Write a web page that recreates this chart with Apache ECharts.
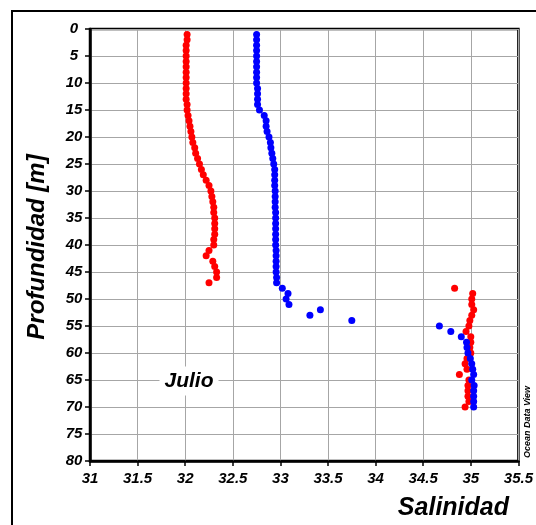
<!DOCTYPE html>
<html><head><meta charset="utf-8">
<script src="https://cdn.jsdelivr.net/npm/echarts@6/dist/echarts.min.js"></script>
<style>html,body{margin:0;padding:0;background:#fff;}#c{width:536px;height:525px;}</style>
</head><body><div id="c"></div>
<script>
var depths = [];
for (var d = 1; d <= 70; d++) depths.push(d);
var salRed = [32.02,32.02,32.01,32.01,32.01,32.01,32.01,32.01,32.01,32.01,32.01,32.01,32.01,32.02,32.02,
  32.03,32.04,32.05,32.06,32.07,32.08,32.10,32.11,32.13,32.15,32.17,32.19,32.22,32.25,32.27,
  32.28,32.29,32.30,32.30,32.31,32.31,32.31,32.31,32.30,32.30,32.25,32.22,32.29,32.31,32.33,32.33,32.25,
  34.83,35.02,35.01,35.01,35.03,35.01,34.99,34.98,34.95,35.00,35.00,34.99,35.00,34.96,34.94,34.96,34.88,
  34.98,34.97,34.97,34.97,34.98,34.94];
var salBlue = [32.75,32.75,32.75,32.75,32.75,32.75,32.75,32.75,32.75,32.75,32.76,32.76,32.76,32.76,
  32.78,32.83,32.85,32.85,32.86,32.88,32.895,32.90,32.91,32.92,32.93,32.94,32.94,32.94,32.94,32.945,
  32.945,32.945,32.945,32.95,32.95,32.95,32.95,32.95,32.95,32.95,32.955,32.955,32.955,32.955,32.955,32.96,32.96,
  33.02,33.08,33.06,33.09,33.42,33.31,33.75,34.67,34.79,34.90,34.955,34.96,34.97,34.995,35.01,35.02,35.03,
  35.01,35.035,35.03,35.03,35.03,35.03];
var xTicks = ['31','31.5','32','32.5','33','33.5','34','34.5','35','35.5'];

function pairs(sal){ return sal.map(function(s,i){ return [s, depths[i]]; }); }
var F = 'Liberation Sans, Arial, sans-serif';
var chart = echarts.init(document.getElementById('c'), null, {renderer:'canvas'});
chart.setOption({
  animation:false,
  backgroundColor:'#fff',
  grid:{left:90, top:29, width:432, height:432, show:true, borderColor:'#000', borderWidth:2.5, containLabel:false},
  xAxis:{type:'value', min:31, max:35.5, interval:0.5,
    axisLine:{show:true, onZero:false, lineStyle:{color:'#000', width:2.5}},
    axisTick:{show:true, length:5, lineStyle:{color:'#000', width:1.5}},
    axisLabel:{margin:10, color:'#000', fontFamily:F, fontWeight:'bold', fontStyle:'italic', fontSize:15,
      formatter:function(v){ return String(v); }},
    splitLine:{show:true, lineStyle:{color:'#a6a6a6', width:1}}},
  yAxis:{type:'value', min:0, max:80, interval:5, inverse:true,
    axisLine:{show:true, onZero:false, lineStyle:{color:'#000', width:2.5}},
    axisTick:{show:true, length:5, lineStyle:{color:'#000', width:1.5}},
    axisLabel:{margin:16, align:'center', color:'#000', fontFamily:F, fontWeight:'bold', fontStyle:'italic', fontSize:15},
    splitLine:{show:true, lineStyle:{color:'#a6a6a6', width:1}}},
  series:[
    {type:'scatter', data:pairs(salRed), symbolSize:7, itemStyle:{color:'#ff0000', opacity:1}, z:3},
    {type:'scatter', data:pairs(salBlue), symbolSize:7, itemStyle:{color:'#0000ff', opacity:1}, z:4}
  ],
  graphic:[
    {type:'rect', shape:{x:12, y:11, width:540, height:530}, style:{fill:null, stroke:'#000', lineWidth:2}, z:100, silent:true},
    {type:'text', x:37, y:247, rotation:Math.PI/2, style:{text:'Profundidad [m]', font:'italic bold 24px '+F, fill:'#000', textAlign:'center', textVerticalAlign:'middle'}},
    {type:'text', x:509, y:508, style:{text:'Salinidad', font:'italic bold 25px '+F, fill:'#000', textAlign:'right', textVerticalAlign:'middle'}},
    {type:'text', x:189, y:381, z:50, style:{text:'Julio', font:'italic bold 21px '+F, fill:'#000', textAlign:'center', textVerticalAlign:'middle', backgroundColor:'#fff', padding:[4,5]}},
    {type:'text', x:528, y:422, rotation:Math.PI/2, style:{text:'Ocean Data View', font:'italic bold 9px '+F, fill:'#000', textAlign:'center', textVerticalAlign:'middle'}}
  ]
});
</script></body></html>
